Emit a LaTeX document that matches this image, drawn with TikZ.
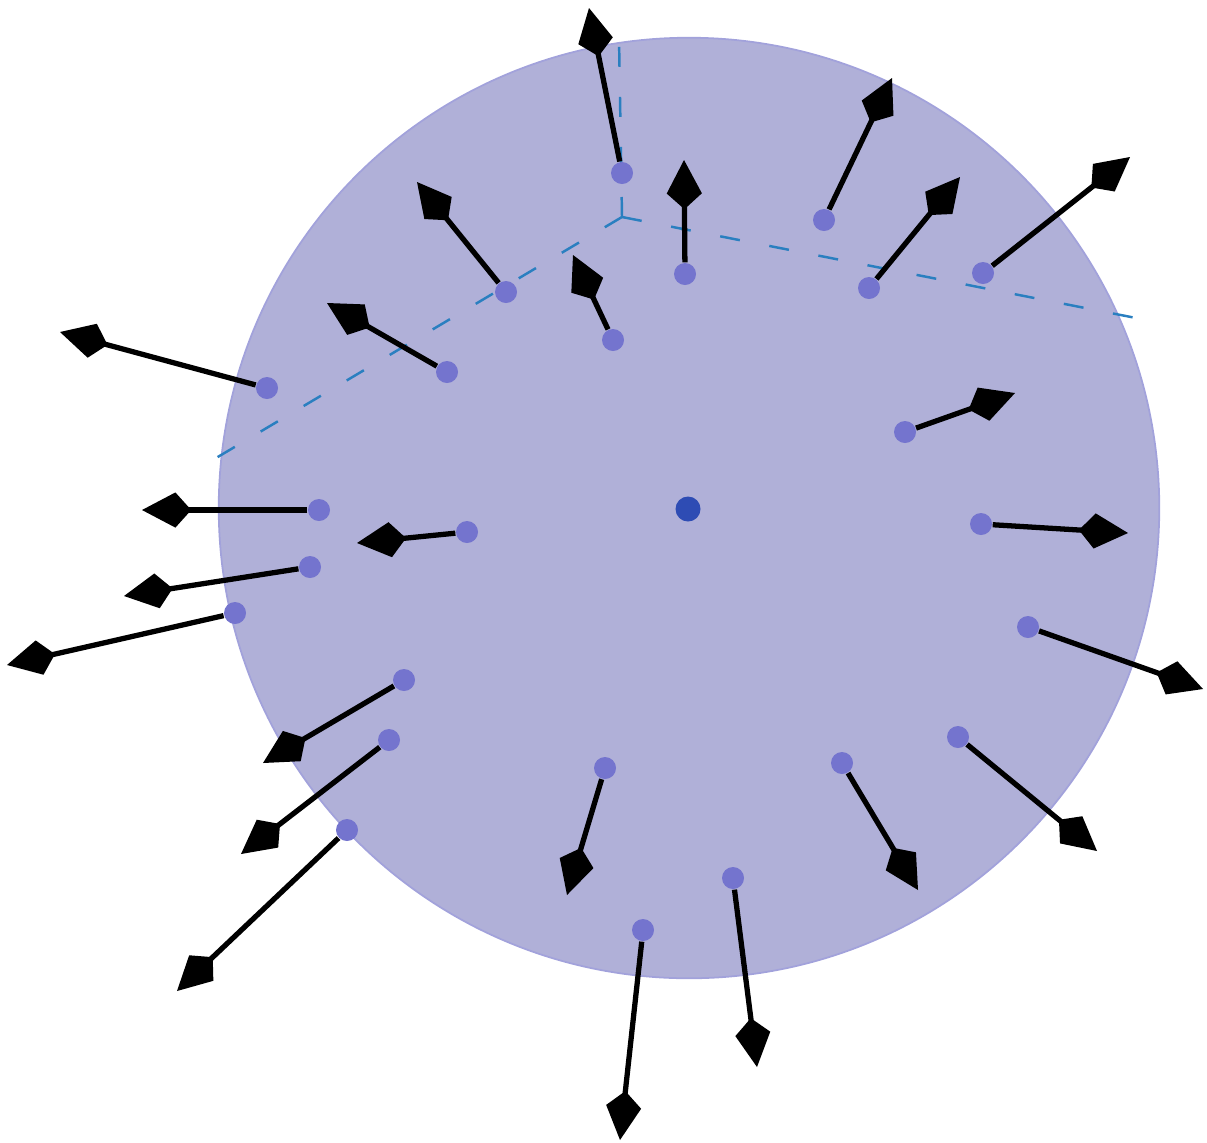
\documentclass[tikz,border=0pt]{standalone}
\usepackage{tikz}
\usetikzlibrary{arrows.meta}
\usepackage{xcolor}
\definecolor{spherefill}{HTML}{B0B0D8}
\definecolor{dotblue}{HTML}{7474CE}
\definecolor{centerblue}{HTML}{2E4CB4}
\definecolor{axisblue}{HTML}{2A7FC0}
\tikzset{
  sphere/.style={circle, fill=spherefill, draw=spherefill!92!blue, line width=0.5pt,
                 minimum size=9.4cm, inner sep=0pt},
  pt/.style={circle, fill=#1, minimum size=0.22cm, inner sep=0pt},
  pt/.default=dotblue,
  vec/.style={-{Kite[length=14pt, width=10pt, inset=4.5pt]}, line width=1.5pt, black},
  axis/.style={axisblue, line width=0.7pt, dash pattern=on 0.2cm off 0.3cm},
}
\begin{document}
\begin{tikzpicture}[x=0.01cm, y=-0.01cm]
  \useasboundingbox (0,0) rectangle (1207,1142);
  % sphere and centre
  \node[sphere] (ball) at (689,508) {};
  \node[pt=centerblue, minimum size=0.25cm] (c) at (688,509) {};

  % --- dashed axes ---
  \coordinate (o) at (622,217);
  \coordinate (ztop) at (619,38);
  \coordinate (xend) at (211,461);
  \coordinate (yend) at (1136,318);
  \draw[axis] (o) -- (ztop);
  \draw[axis] (o) -- (xend);
  \draw[axis] (o) -- (yend);

  % --- upper half ---
  \node[pt] (p1) at (622,173) {};  \coordinate (t1) at (589,8);
  \node[pt] (p2) at (685,274) {};  \coordinate (t2) at (684,160);
  \node[pt] (p3) at (613,340) {};  \coordinate (t3) at (573,255);
  \node[pt] (p4) at (506,292) {};  \coordinate (t4) at (417,182);
  \node[pt] (p5) at (447,372) {};  \coordinate (t5) at (327,303);
  \node[pt] (p6) at (267,388) {};  \coordinate (t6) at (60,332);
  \node[pt] (p7) at (824,220) {};  \coordinate (t7) at (892,78);
  \node[pt] (p8) at (869,288) {};  \coordinate (t8) at (960,177);
  \node[pt] (p9) at (983,273) {};  \coordinate (t9) at (1130,157);
  \node[pt] (p10) at (905,432) {}; \coordinate (t10) at (1015,393);

  % --- left side ---
  \node[pt] (p11) at (319,510) {}; \coordinate (t11) at (142,510);
  \node[pt] (p12) at (467,532) {}; \coordinate (t12) at (357,543);
  \node[pt] (p13) at (310,567) {}; \coordinate (t13) at (124,596);
  \node[pt] (p14) at (235,613) {}; \coordinate (t14) at (7,665);
  \node[pt] (p15) at (404,680) {}; \coordinate (t15) at (263,763);
  \node[pt] (p16) at (389,740) {}; \coordinate (t16) at (241,854);
  \node[pt] (p17) at (347,830) {}; \coordinate (t17) at (177,991);

  % --- lower half and right side ---
  \node[pt] (p18) at (605,768) {}; \coordinate (t18) at (567,895);
  \node[pt] (p19) at (643,930) {}; \coordinate (t19) at (620,1140);
  \node[pt] (p20) at (733,878) {}; \coordinate (t20) at (757,1067);
  \node[pt] (p21) at (842,763) {}; \coordinate (t21) at (918,890);
  \node[pt] (p22) at (958,737) {}; \coordinate (t22) at (1097,851);
  \node[pt] (p23) at (1028,627) {}; \coordinate (t23) at (1203,689);
  \node[pt] (p24) at (981,524) {}; \coordinate (t24) at (1128,533);

  \draw[vec] (p1) -- (t1);   \draw[vec] (p2) -- (t2);   \draw[vec] (p3) -- (t3);
  \draw[vec] (p4) -- (t4);   \draw[vec] (p5) -- (t5);   \draw[vec] (p6) -- (t6);
  \draw[vec] (p7) -- (t7);   \draw[vec] (p8) -- (t8);   \draw[vec] (p9) -- (t9);
  \draw[vec] (p10) -- (t10); \draw[vec] (p11) -- (t11); \draw[vec] (p12) -- (t12);
  \draw[vec] (p13) -- (t13); \draw[vec] (p14) -- (t14); \draw[vec] (p15) -- (t15);
  \draw[vec] (p16) -- (t16); \draw[vec] (p17) -- (t17); \draw[vec] (p18) -- (t18);
  \draw[vec] (p19) -- (t19); \draw[vec] (p20) -- (t20); \draw[vec] (p21) -- (t21);
  \draw[vec] (p22) -- (t22); \draw[vec] (p23) -- (t23); \draw[vec] (p24) -- (t24);
\end{tikzpicture}
\end{document}
